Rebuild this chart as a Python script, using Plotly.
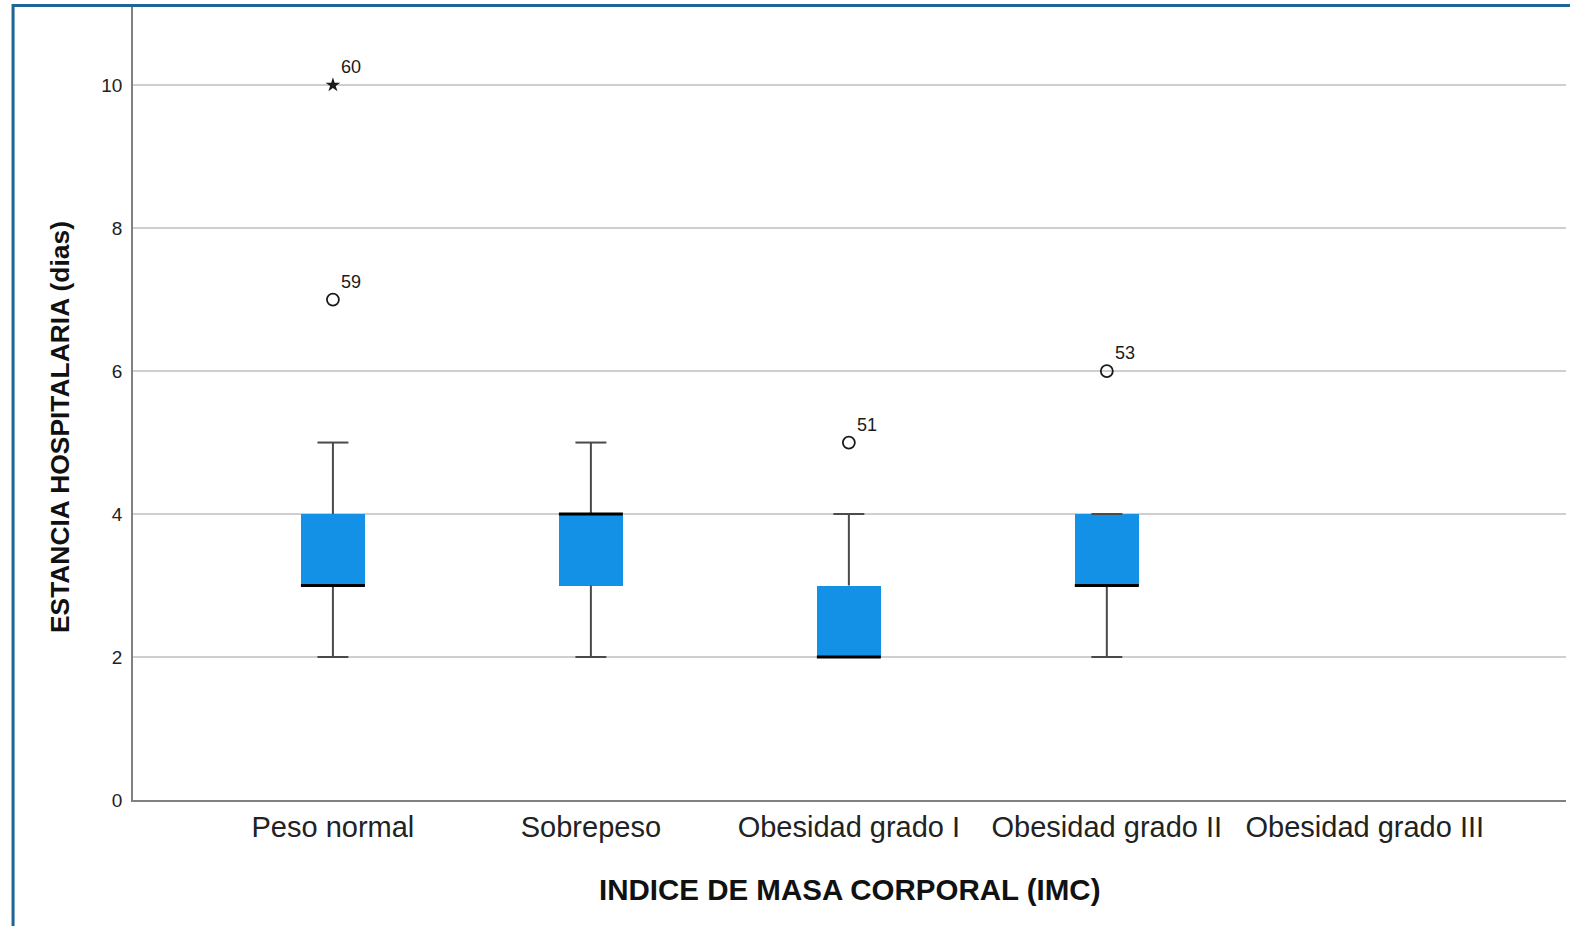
import plotly.graph_objects as go

# ---- data ----
categories = ["Peso normal", "Sobrepeso", "Obesidad grado I", "Obesidad grado II", "Obesidad grado III"]
q1 = [3, 3, 2, 3, None]
median = [3, 4, 2, 3, None]
q3 = [4, 4, 3, 4, None]
lower_whisker = [2, 2, 2, 2, None]
upper_whisker = [5, 5, 4, 4, None]

outlier_cat = [0, 0, 2, 3]
outlier_val = [10, 7, 5, 6]
outlier_id = ["60", "59", "51", "53"]
outlier_extreme = [True, False, False, False]

y_ticks = [0, 2, 4, 6, 8, 10]

# ---- style ----
BOX_COLOR = "#1391E6"
WHISK_COLOR = "#4a4a4a"
BOX_HALF = 0.124
CAP_HALF = 0.06
FONT = "Liberation Sans, Arial, sans-serif"

idx = list(range(len(categories)))
valid = [i for i in idx if q1[i] is not None]

fig = go.Figure()

# boxes
fig.add_trace(go.Bar(
    x=valid,
    y=[q3[i] - q1[i] for i in valid],
    base=[q1[i] for i in valid],
    width=[2 * BOX_HALF] * len(valid),
    marker=dict(color=BOX_COLOR, line=dict(width=0)),
    showlegend=False, hoverinfo="skip",
))

# whiskers and caps
wx, wy = [], []
for i in valid:
    wx += [i, i, None, i, i, None]
    wy += [q3[i], upper_whisker[i], None, q1[i], lower_whisker[i], None]
    wx += [i - CAP_HALF, i + CAP_HALF, None, i - CAP_HALF, i + CAP_HALF, None]
    wy += [upper_whisker[i], upper_whisker[i], None, lower_whisker[i], lower_whisker[i], None]
fig.add_trace(go.Scatter(x=wx, y=wy, mode="lines",
                         line=dict(color=WHISK_COLOR, width=2),
                         showlegend=False, hoverinfo="skip"))

# medians
mx, my = [], []
for i in valid:
    mx += [i - BOX_HALF, i + BOX_HALF, None]
    my += [median[i], median[i], None]
fig.add_trace(go.Scatter(x=mx, y=my, mode="lines",
                         line=dict(color="#000000", width=3),
                         showlegend=False, hoverinfo="skip"))

# outliers
ox = [outlier_cat[k] for k in range(len(outlier_val)) if not outlier_extreme[k]]
oy = [outlier_val[k] for k in range(len(outlier_val)) if not outlier_extreme[k]]
fig.add_trace(go.Scatter(x=ox, y=oy, mode="markers",
                         marker=dict(symbol="circle-open", size=12, color="#1a1a1a",
                                     line=dict(width=1.8, color="#1a1a1a")),
                         showlegend=False, hoverinfo="skip"))
ex = [outlier_cat[k] for k in range(len(outlier_val)) if outlier_extreme[k]]
ey = [outlier_val[k] for k in range(len(outlier_val)) if outlier_extreme[k]]
fig.add_trace(go.Scatter(x=ex, y=ey, mode="markers",
                         marker=dict(symbol="star", size=11, color="#1a1a1a"),
                         showlegend=False, hoverinfo="skip"))

annotations = []
for k in range(len(outlier_val)):
    annotations.append(dict(
        x=outlier_cat[k], y=outlier_val[k], xref="x", yref="y",
        text=outlier_id[k], showarrow=False, xanchor="left", yanchor="bottom",
        xshift=6, yshift=6, font=dict(family=FONT, size=18, color="#1a1a1a"),
    ))

# axis titles
annotations.append(dict(
    x=0.5, y=-0.113, xref="paper", yref="paper",
    text="<b>INDICE DE MASA CORPORAL (IMC)</b>", showarrow=False,
    xanchor="center", yanchor="middle",
    font=dict(family=FONT, size=29.5, color="#111111"),
))
annotations.append(dict(
    x=-0.051, y=0.469, xref="paper", yref="paper",
    text="<b>ESTANCIA HOSPITALARIA (dias)</b>", showarrow=False, textangle=-90,
    xanchor="center", yanchor="middle",
    font=dict(family=FONT, size=26.4, color="#111111"),
))

fig.update_layout(
    width=1570, height=926,
    margin=dict(l=133, r=4, t=5, b=126),
    paper_bgcolor="white", plot_bgcolor="white",
    font=dict(family=FONT, color="#1a1a1a"),
    annotations=annotations,
    shapes=[dict(type="rect", xref="paper", yref="paper",
                 x0=-0.0837, x1=1.2, y0=-0.4, y1=0.9995,
                 line=dict(color="#1F6593", width=3), layer="above")],
    bargap=0,
)
fig.update_xaxes(
    range=[-0.775, 4.78],
    tickmode="array", tickvals=idx, ticktext=categories,
    tickfont=dict(family=FONT, size=29, color="#222222"),
    showgrid=False, zeroline=False,
    showline=True, linecolor="#808080", linewidth=1.5,
    ticks="",
)
fig.update_yaxes(
    range=[0, 11.12],
    tickmode="array", tickvals=y_ticks,
    tickfont=dict(family=FONT, size=19, color="#222222"),
    showgrid=True, gridcolor="#cfcfcf", gridwidth=1.5,
    zeroline=False,
    showline=True, linecolor="#808080", linewidth=1.5,
    ticks="", ticklabelstandoff=5,
)

fig.write_html(
    "out.html",
    config={"displayModeBar": False},
    post_script="document.body.style.margin='0';document.body.style.overflow='hidden';",
)
